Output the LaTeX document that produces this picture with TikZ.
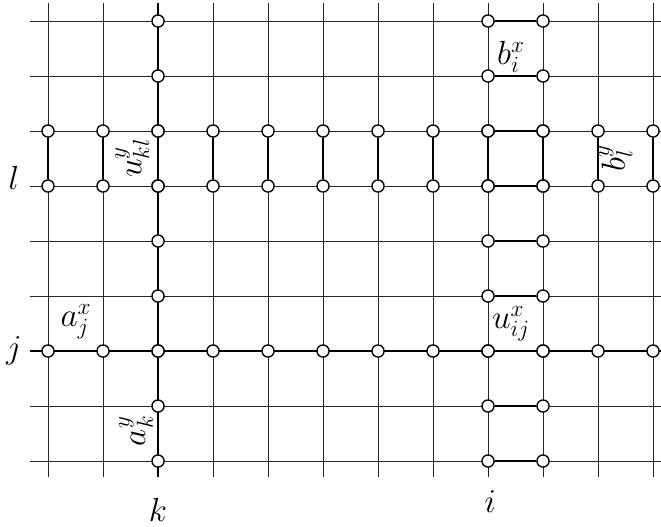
\documentclass[tikz,border=0pt]{standalone}
\usepackage{tikz}

\begin{document}
\begin{tikzpicture}[
        gridline/.style={black!85, line width=0.5pt},
        boldline/.style={black, line width=1.1pt},
        site/.style={
            circle,
            draw=black,
            fill=white,
            line width=0.7pt,
            inner sep=0pt,
            minimum size=0.22cm
          },
        lbl/.style={font=\LARGE, inner sep=1pt}
      ]
      \useasboundingbox (-0.873,-1.182) rectangle (11.145,8.382);

      % lattice
      \foreach \x in {0,...,11}
        \draw[gridline] (\x,-0.29) -- (\x,8.33);
      \foreach \y in {0,...,8}
        \draw[gridline] (-0.33,\y) -- (11.15,\y);
      \draw[boldline] (2,-0.29) -- (2,8.33);
      \draw[boldline] (-0.33,2) -- (11.15,2);

      % sites
      \foreach \y in {0,...,8} {
          \node[site] (s2-\y) at (2,\y) {};
          \node[site] (s8-\y) at (8,\y) {};
          \node[site] (s9-\y) at (9,\y) {};
        }
      \foreach \x in {0,...,11} {
          \node[site] (s\x-2) at (\x,2) {};
          \node[site] (s\x-5) at (\x,5) {};
          \node[site] (s\x-6) at (\x,6) {};
        }

      % bold links
      \foreach \x in {0,...,11}
        \draw[boldline] (s\x-5) -- (s\x-6);
      \foreach \y in {0,...,8}
        \draw[boldline] (s8-\y) -- (s9-\y);

      % indices
      \node[lbl] (idx_l) at (-0.62,5.15) {$l$};
      \node[lbl] (idx_j) at (-0.62,2.0) {$j$};
      \node[lbl] (idx_k) at (2.0,-0.89) {$k$};
      \node[lbl] (idx_i) at (8.04,-0.74) {$i$};

      % variables
      \node[lbl] (lab_bx) at (8.42,7.35) {$b^x_i$};
      \node[lbl] (lab_ax) at (0.51,2.53) {$a^x_j$};
      \node[lbl] (lab_ux) at (8.42,2.49) {$u^x_{ij}$};
      \node[lbl, rotate=90] (lab_uy) at (1.53,5.51) {$u^y_{kl}$};
      \node[lbl, rotate=90] (lab_by) at (10.32,5.51) {$b^y_l$};
      \node[lbl, rotate=90] (lab_ay) at (1.6,0.55) {$a^y_k$};
    \end{tikzpicture}
\end{document}
